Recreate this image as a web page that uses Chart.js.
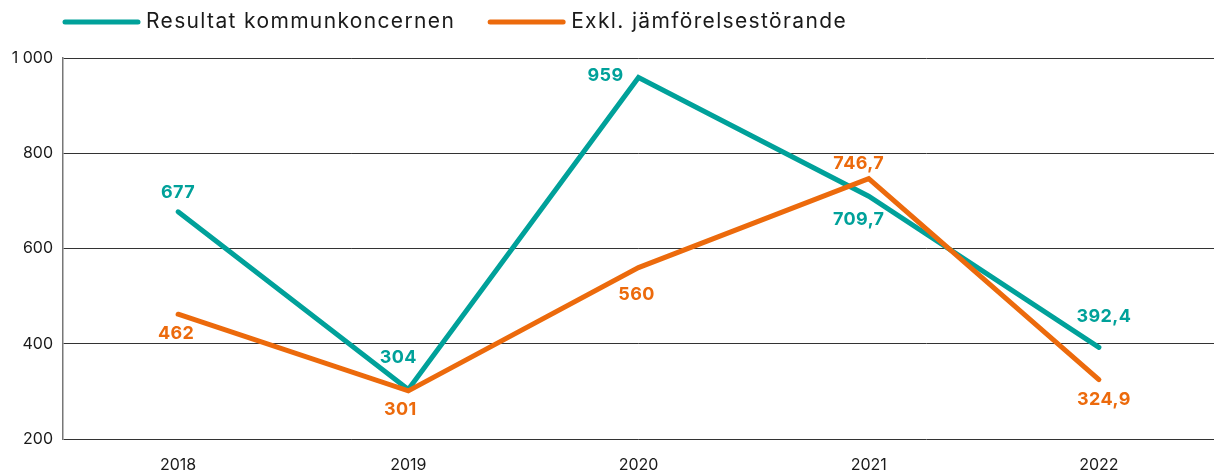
<!DOCTYPE html>
<html>
<head>
<meta charset="utf-8">
<script src="https://cdn.jsdelivr.net/npm/chart.js@4"></script>
<style>
  html, body { margin: 0; padding: 0; background: #fff; }
  #wrap { width: 1214px; height: 474px; }
</style>
</head>
<body>
<div id="wrap"><canvas id="myChart"></canvas></div>
<script>
const years = ['2018', '2019', '2020', '2021', '2022']
const resultat = [677, 304, 959, 709.7, 392.4]
const exkl = [462, 301, 560, 746.7, 324.9]
const yTicks = [200, 400, 600, 800, 1000]

const TEAL = '#00A19A'
const ORANGE = '#EC6A0C'
const FONT = 'Inter, "Open Sans", sans-serif'

// swedish number format: 1 000 / 709,7
function fmt(v) {
    let s = String(v).replace('.', ',')
    return s.replace(/\B(?=(\d{3})+(?!\d))/g, ' ')
}

// value labels, offset from each point (dx, dy in px)
const labelOffsets = {
    0: [[0, -19], [-10, -32], [-33, -2], [-10, 23], [5, -31]],
    1: [[-2, 19], [-8, 19], [-2, 27], [-10, -15], [5, 20]]
}

const valueLabels = {
    id: 'valueLabels',
    afterDatasetsDraw(chart) {
        const ctx = chart.ctx
        ctx.save()
        ctx.font = `bold 18px ${FONT}`
        ctx.letterSpacing = '0.4px'
        ctx.textAlign = 'center'
        ctx.textBaseline = 'middle'
        chart.data.datasets.forEach((ds, i) => {
            const meta = chart.getDatasetMeta(i)
            ctx.fillStyle = ds.borderColor
            meta.data.forEach((pt, j) => {
                const off = labelOffsets[i][j]
                ctx.fillText(fmt(ds.data[j]), pt.x + off[0], pt.y + off[1])
            })
        })
        ctx.restore()
    }
}

// legend with long line swatches at the top left
const lineLegend = {
    id: 'lineLegend',
    afterDraw(chart) {
        const ctx = chart.ctx
        const y = 22
        let x = 65
        ctx.save()
        ctx.font = `21px ${FONT}`
        ctx.letterSpacing = '1.35px'
        ctx.textBaseline = 'middle'
        chart.data.datasets.forEach(ds => {
            ctx.strokeStyle = ds.borderColor
            ctx.lineWidth = 5
            ctx.lineCap = 'round'
            ctx.beginPath()
            ctx.moveTo(x, y)
            ctx.lineTo(x + 73, y)
            ctx.stroke()
            ctx.fillStyle = '#1a1a1a'
            ctx.fillText(ds.label, x + 81, y)
            x += 81 + ctx.measureText(ds.label).width + 35
        })
        ctx.restore()
    }
}

const chart = new Chart(document.getElementById('myChart'), {
    type: 'line',
    data: {
        labels: years,
        datasets: [
            {
                label: 'Resultat kommunkoncernen',
                data: resultat,
                borderColor: TEAL,
                backgroundColor: TEAL,
                borderWidth: 5,
                borderCapStyle: 'round',
                pointRadius: 0,
                order: 2
            },
            {
                label: 'Exkl. jämförelsestörande',
                data: exkl,
                borderColor: ORANGE,
                backgroundColor: ORANGE,
                borderWidth: 5,
                borderCapStyle: 'round',
                pointRadius: 0,
                order: 1
            }
        ]
    },
    options: {
        responsive: true,
        maintainAspectRatio: false,
        animation: false,
        layout: { padding: { top: 58, left: 0, right: 0, bottom: 0 } },
        plugins: {
            legend: { display: false },
            tooltip: { enabled: false }
        },
        scales: {
            x: {
                offset: true,
                grid: { display: false, drawTicks: false },
                border: { display: false },
                ticks: {
                    padding: 17,
                    color: '#1a1a1a',
                    font: { family: FONT, size: 16 }
                },
                afterFit(scale) { scale.height = 35 }
            },
            y: {
                min: 200,
                max: 1000,
                afterBuildTicks(scale) {
                    scale.ticks = yTicks.map(v => ({ value: v }))
                },
                grid: { color: '#333', lineWidth: 1, drawTicks: false },
                border: { color: '#777', width: 1.5 },
                ticks: {
                    padding: 10,
                    color: '#1a1a1a',
                    font: { family: FONT, size: 16 },
                    callback: v => fmt(v)
                },
                afterFit(scale) { scale.width = 63 }
            }
        }
    },
    plugins: [valueLabels, lineLegend]
})
</script>
</body>
</html>
